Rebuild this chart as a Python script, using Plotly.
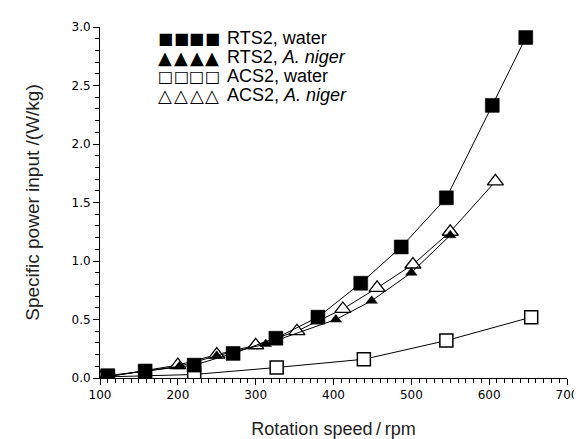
import plotly.graph_objects as go

# RTS2, water (filled squares)
rts2_water_rpm = [110, 158, 221, 271, 326, 380, 435, 487, 545, 604, 647]
rts2_water_p = [0.02, 0.06, 0.11, 0.21, 0.34, 0.52, 0.81, 1.12, 1.54, 2.33, 2.91]

# RTS2, A. niger (filled triangles)
rts2_niger_rpm = [105, 202, 250, 313, 403, 449, 500, 550]
rts2_niger_p = [0.01, 0.10, 0.19, 0.29, 0.50, 0.66, 0.90, 1.22]

# ACS2, water (open squares)
acs2_water_rpm = [110, 221, 327, 439, 545, 654]
acs2_water_p = [0.01, 0.03, 0.09, 0.16, 0.32, 0.52]

# ACS2, A. niger (open triangles)
acs2_niger_rpm = [100, 200, 250, 300, 353, 412, 456, 502, 550, 608]
acs2_niger_p = [0.0, 0.11, 0.20, 0.28, 0.40, 0.59, 0.77, 0.97, 1.25, 1.68]

x_ticks = [100, 200, 300, 400, 500, 600, 700]
y_ticks = [0.0, 0.5, 1.0, 1.5, 2.0, 2.5, 3.0]

legend_glyphs = ["■", "▲", "□", "△"]
legend_glyph_sizes = [16, 18, 16, 18]
legend_labels = ["RTS2, water", "RTS2, <i>A. niger</i>", "ACS2, water", "ACS2, <i>A. niger</i>"]

fig = go.Figure()

line = dict(color="black", width=1)

fig.add_trace(go.Scatter(
    x=acs2_water_rpm, y=acs2_water_p, mode="lines+markers", line=line,
    marker=dict(symbol="square", size=13, color="white", line=dict(color="black", width=1.5)),
))
fig.add_trace(go.Scatter(
    x=acs2_niger_rpm, y=acs2_niger_p, mode="lines+markers", line=line,
    marker=dict(symbol="triangle-up", size=14, color="white", line=dict(color="black", width=1.3)),
))
fig.add_trace(go.Scatter(
    x=rts2_niger_rpm, y=rts2_niger_p, mode="lines+markers", line=line,
    marker=dict(symbol="triangle-up", size=10, color="black", line=dict(color="black", width=0.5)),
))
fig.add_trace(go.Scatter(
    x=rts2_water_rpm, y=rts2_water_p, mode="lines+markers", line=line,
    marker=dict(symbol="square", size=14, color="black", line=dict(color="black", width=0.5)),
))

# legend drawn as text: four glyphs then the label
plot_l, plot_w, plot_t, plot_h = 92, 478, 17, 360
row_px = [28.5, 48, 67.5, 87]
glyph_px = [159, 175, 191, 207]
text_px = 220
for glyph, gsize, label, ry in zip(legend_glyphs, legend_glyph_sizes, legend_labels, row_px):
    yy = 1 - (ry - plot_t) / plot_h
    for gx in glyph_px:
        fig.add_annotation(
            x=(gx - plot_l) / plot_w, y=yy, xref="paper", yref="paper",
            xanchor="center", yanchor="middle", text=glyph, showarrow=False,
            font=dict(family="DejaVu Sans", size=gsize, color="black"),
        )
    fig.add_annotation(
        x=(text_px - plot_l) / plot_w, y=yy, xref="paper", yref="paper",
        xanchor="left", yanchor="middle", text=label, showarrow=False,
        font=dict(family="Liberation Sans, Arial", size=18, color="black"),
    )

tickfont = dict(family="DejaVu Sans", size=12, color="black")

fig.update_layout(
    width=582, height=439,
    margin=dict(l=plot_l, r=12, t=plot_t, b=62),
    paper_bgcolor="white", plot_bgcolor="white",
    showlegend=False,
    xaxis=dict(
        range=[100, 700], tickvals=x_ticks, ticktext=[str(v) for v in x_ticks],
        showgrid=False, zeroline=False, showline=True, linecolor="black", linewidth=1,
        ticks="outside", ticklen=6, tickwidth=1, tickcolor="black", tickfont=tickfont,
        minor=dict(dtick=10, ticks="outside", ticklen=4, tickcolor="black", tickwidth=1),
        title=dict(text="Rotation speed\u2009/\u2009rpm",
                   font=dict(family="Liberation Sans, Arial", size=18, color="#222"), standoff=20),
    ),
    yaxis=dict(
        range=[0, 3.0], tickvals=y_ticks, ticktext=[f"{v:.1f}" for v in y_ticks],
        showgrid=False, zeroline=False, showline=True, linecolor="black", linewidth=1,
        ticks="outside", ticklen=6, tickwidth=1, tickcolor="black", tickfont=tickfont,
        minor=dict(dtick=0.1, ticks="outside", ticklen=4, tickcolor="black", tickwidth=1),
        title=dict(text="Specific power input /(W/kg)",
                   font=dict(family="Liberation Sans, Arial", size=19, color="#222"), standoff=26),
    ),
)

fig.write_html("out.html")
